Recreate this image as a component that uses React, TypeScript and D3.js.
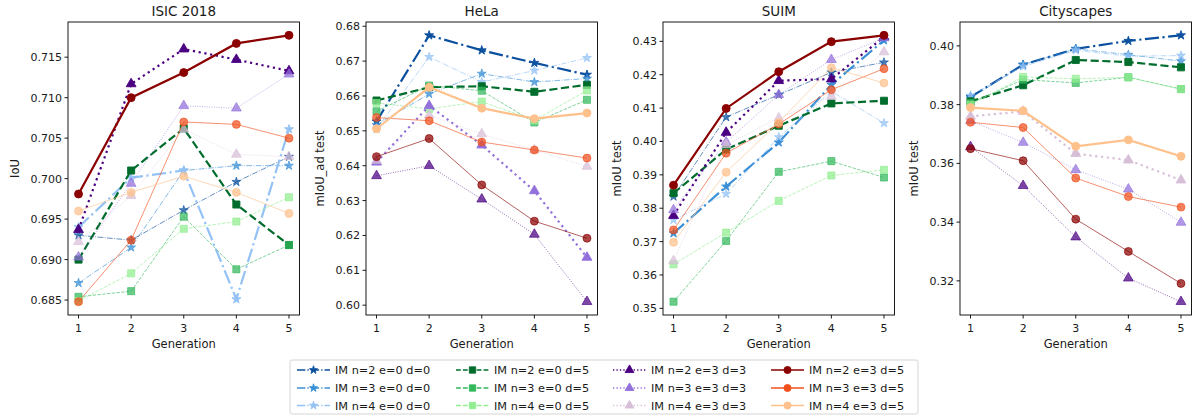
import React from 'react';
import * as d3 from 'd3';

const generations = [1, 2, 3, 4, 5];

const seriesLabels = [
  'IM n=2 e=0 d=0', 'IM n=3 e=0 d=0', 'IM n=4 e=0 d=0',
  'IM n=2 e=0 d=5', 'IM n=3 e=0 d=5', 'IM n=4 e=0 d=5',
  'IM n=2 e=3 d=3', 'IM n=3 e=3 d=3', 'IM n=4 e=3 d=3',
  'IM n=2 e=3 d=5', 'IM n=3 e=3 d=5', 'IM n=4 e=3 d=5',
];
const seriesColors = [
  '#0b509e', '#3a8fd6', '#94c2f5',
  '#006d2c', '#33b85c', '#90ee90',
  '#4b0082', '#9370db', '#d8bfd8',
  '#8b0000', '#f0501e', '#fec18c',
];
const seriesMarkers = ['star', 'star', 'star', 'square', 'square', 'square', 'triangle', 'triangle', 'triangle', 'circle', 'circle', 'circle'];
const seriesDash = ['dashdot', 'dashdot', 'dashdot', 'dashed', 'dashed', 'dashed', 'dotted', 'dotted', 'dotted', 'solid', 'solid', 'solid'];

const panelTitles = ['ISIC 2018', 'HeLa', 'SUIM', 'Cityscapes'];
const panelYLabels = ['IoU', 'mIoU_ad test', 'mIoU test', 'mIoU test'];
const isicTicks = [0.685, 0.69, 0.695, 0.7, 0.705, 0.71, 0.715];
const helaTicks = [0.6, 0.61, 0.62, 0.63, 0.64, 0.65, 0.66, 0.67, 0.68];
const suimTicks = [0.35, 0.36, 0.37, 0.38, 0.39, 0.4, 0.41, 0.42, 0.43];
const cityTicks = [0.32, 0.34, 0.36, 0.38, 0.4];
const panelTickFormats = ['.3f', '.2f', '.2f', '.2f'];
// highlighted (thick) series per panel
const panelBold = [[2, 3, 6, 9], [0, 3, 7, 11], [1, 3, 6, 9], [0, 3, 8, 11]];

const isic = [
  [0.6930, 0.6924, 0.6961, 0.6996, 0.7027],
  [0.6871, 0.6915, 0.7010, 0.7016, 0.7016],
  [0.6940, 0.7001, 0.7010, 0.6851, 0.7061],
  [0.6900, 0.7010, 0.7062, 0.6968, 0.6918],
  [0.6854, 0.6861, 0.6953, 0.6888, 0.6918],
  [0.6849, 0.6883, 0.6938, 0.6947, 0.6977],
  [0.6937, 0.7117, 0.7160, 0.7147, 0.7133],
  [0.6903, 0.6994, 0.7090, 0.7087, 0.7129],
  [0.6922, 0.6979, 0.7061, 0.7030, 0.7027],
  [0.6981, 0.7100, 0.7131, 0.7167, 0.7177],
  [0.6848, 0.6924, 0.7070, 0.7067, 0.7050],
  [0.6960, 0.6983, 0.7003, 0.6983, 0.6957],
];
const hela = [
  [0.6527, 0.6774, 0.6731, 0.6695, 0.6661],
  [0.6517, 0.6606, 0.6664, 0.6640, 0.6650],
  [0.6505, 0.6712, 0.6640, 0.6673, 0.6709],
  [0.6587, 0.6625, 0.6628, 0.6612, 0.6632],
  [0.6556, 0.6630, 0.6615, 0.6524, 0.6589],
  [0.6580, 0.6563, 0.6584, 0.6530, 0.6616],
  [0.6371, 0.6400, 0.6304, 0.6203, 0.6010],
  [0.6410, 0.6572, 0.6459, 0.6328, 0.6137],
  [0.6415, 0.6545, 0.6491, 0.6445, 0.6398],
  [0.6426, 0.6478, 0.6345, 0.6241, 0.6192],
  [0.6538, 0.6529, 0.6468, 0.6445, 0.6422],
  [0.6506, 0.6625, 0.6565, 0.6535, 0.6551],
];
const suim = [
  [0.3835, 0.4073, 0.4140, 0.4207, 0.4237],
  [0.3725, 0.3865, 0.3997, 0.4170, 0.4303],
  [0.3765, 0.3843, 0.4013, 0.4150, 0.4055],
  [0.3845, 0.3976, 0.4047, 0.4114, 0.4122],
  [0.3520, 0.3702, 0.3909, 0.3941, 0.3892],
  [0.3632, 0.3727, 0.3822, 0.3898, 0.3915],
  [0.3778, 0.4027, 0.4182, 0.4187, 0.4313],
  [0.3795, 0.3998, 0.4140, 0.4245, 0.4310],
  [0.3642, 0.3990, 0.4070, 0.4135, 0.4268],
  [0.3869, 0.4099, 0.4209, 0.4299, 0.4318],
  [0.3735, 0.3965, 0.4052, 0.4155, 0.4218],
  [0.3698, 0.3908, 0.4057, 0.4221, 0.4175],
];
const cityscapes = [
  [0.3826, 0.3936, 0.3990, 0.4017, 0.4036],
  [0.3822, 0.3936, 0.3990, 0.3970, 0.3948],
  [0.3831, 0.3930, 0.3985, 0.3965, 0.3967],
  [0.3811, 0.3866, 0.3952, 0.3945, 0.3927],
  [0.3805, 0.3885, 0.3874, 0.3893, 0.3853],
  [0.3800, 0.3894, 0.3888, 0.3893, 0.3853],
  [0.3656, 0.3524, 0.3349, 0.3209, 0.3129],
  [0.3745, 0.3671, 0.3578, 0.3512, 0.3399],
  [0.3760, 0.3777, 0.3633, 0.3611, 0.3543],
  [0.3650, 0.3609, 0.3410, 0.3300, 0.3191],
  [0.3740, 0.3722, 0.3550, 0.3487, 0.3451],
  [0.3790, 0.3779, 0.3658, 0.3680, 0.3624],
];

const panelData = [isic, hela, suim, cityscapes];
const panelTicks = [isicTicks, helaTicks, suimTicks, cityTicks];

const W = 1192, H = 416;
const FONT = 'DejaVu Sans, sans-serif';
const TEXT = '#1a1a1a';
const panelLefts = [68, 366, 663, 960];
const panelWidth = 231.5;
const panelTop = 22;
const panelHeight = 293;

function dashArray(kind: string, lw: number) {
  if (kind === 'dashed') return [3.7 * lw, 1.6 * lw].join(' ');
  if (kind === 'dashdot') return [6.4 * lw, 1.6 * lw, 1 * lw, 1.6 * lw].join(' ');
  if (kind === 'dotted') return [1 * lw, 1.65 * lw].join(' ');
  return undefined;
}

function symbolPath(kind: string, scale = 1) {
  const t = kind === 'star' ? d3.symbolStar : kind === 'square' ? d3.symbolSquare : kind === 'triangle' ? d3.symbolTriangle : d3.symbolCircle;
  const size = kind === 'star' ? 25 : kind === 'square' ? 50 : kind === 'triangle' ? 42 : 50;
  return d3.symbol().type(t).size(size * scale)() as string;
}

function Panel({ idx }: { idx: number }) {
  const data = panelData[idx];
  const left = panelLefts[idx];
  const all = data.flat();
  const mn = d3.min(all) as number, mx = d3.max(all) as number;
  const pad = (mx - mn) * 0.05;
  const x = d3.scaleLinear().domain([0.8, 5.2]).range([left, left + panelWidth]);
  const y = d3.scaleLinear().domain([mn - pad, mx + pad]).range([panelTop + panelHeight, panelTop]);
  const fmt = d3.format(panelTickFormats[idx]);
  const ticks = panelTicks[idx];
  const bold = panelBold[idx];
  const line = d3.line<number>().x((_, i) => x(generations[i])).y((v) => y(v));
  const tickW = fmt(ticks[0]).length * 6.6;
  const clipId = `clip${idx}`;
  return (
    <g>
      <defs>
        <clipPath id={clipId}>
          <rect x={left} y={panelTop} width={panelWidth} height={panelHeight} />
        </clipPath>
      </defs>
      <g clipPath={`url(#${clipId})`}>
        {data.map((vals, s) => {
          const isBold = bold.includes(s);
          const lw = isBold ? 2.2 : 0.9;
          const op = isBold ? 1 : 0.7;
          const mop = isBold ? 1 : 0.72;
          return (
            <g key={s}>
              <path d={line(vals) as string} fill="none" stroke={seriesColors[s]} strokeWidth={lw}
                strokeOpacity={op} strokeDasharray={dashArray(seriesDash[s], lw)} />
              {vals.map((v, i) => (
                <path key={i} d={symbolPath(seriesMarkers[s])} transform={`translate(${x(generations[i])},${y(v)})`}
                  fill={seriesColors[s]} fillOpacity={mop} stroke={seriesColors[s]} strokeOpacity={mop} strokeWidth={0.9} />
              ))}
            </g>
          );
        })}
      </g>
      <rect x={left} y={panelTop} width={panelWidth} height={panelHeight} fill="none" stroke="#000" strokeWidth={0.9} />
      {generations.map((g) => (
        <g key={g}>
          <line x1={x(g)} x2={x(g)} y1={panelTop + panelHeight} y2={panelTop + panelHeight + 3.5} stroke="#000" strokeWidth={0.9} />
          <text x={x(g)} y={panelTop + panelHeight + 17} textAnchor="middle" fontSize={11} fontFamily={FONT} fill={TEXT}>{g}</text>
        </g>
      ))}
      {ticks.map((t) => (
        <g key={t}>
          <line x1={left - 3.5} x2={left} y1={y(t)} y2={y(t)} stroke="#000" strokeWidth={0.9} />
          <text x={left - 6} y={y(t)} dy="0.36em" textAnchor="end" fontSize={11} fontFamily={FONT} fill={TEXT}>{fmt(t)}</text>
        </g>
      ))}
      <text x={left + panelWidth / 2} y={16} textAnchor="middle" fontSize={13.5} fontFamily={FONT} fill={TEXT}>{panelTitles[idx]}</text>
      <text x={left + panelWidth / 2} y={348} textAnchor="middle" fontSize={11.5} fontFamily={FONT} fill={TEXT}>Generation</text>
      <text transform={`translate(${left - 7 - tickW - 9},${panelTop + panelHeight / 2}) rotate(-90)`} textAnchor="middle"
        fontSize={11.5} fontFamily={FONT} fill={TEXT}>{panelYLabels[idx]}</text>
    </g>
  );
}

function Legend() {
  const colX = [297, 456, 613, 771];
  const rowY = [370, 388, 405.5];
  return (
    <g>
      <rect x={290} y={360} width={628} height={54} rx={2} fill="#fff" fillOpacity={0.8} stroke="#d0d0d0" strokeWidth={0.9} />
      {seriesLabels.map((lab, s) => {
        const c = Math.floor(s / 3), r = s % 3;
        const x0 = colX[c], yy = rowY[r];
        const lw = 1.3;
        return (
          <g key={s}>
            <line x1={x0} x2={x0 + 33} y1={yy} y2={yy} stroke={seriesColors[s]} strokeWidth={lw} strokeDasharray={dashArray(seriesDash[s], lw)} />
            <path d={symbolPath(seriesMarkers[s], 0.8)} transform={`translate(${x0 + 16.5},${yy})`} fill={seriesColors[s]} stroke={seriesColors[s]} strokeWidth={0.9} />
            <text x={x0 + 38} y={yy} dy="0.36em" fontSize={11.3} fontFamily={FONT} fill={TEXT}>{lab}</text>
          </g>
        );
      })}
    </g>
  );
}

export default function App() {
  return (
    <svg width={W} height={H} style={{ position: 'absolute', left: 0, top: 0, background: '#fff' }}>
      <rect width={W} height={H} fill="#fff" />
      {[0, 1, 2, 3].map((i) => <Panel key={i} idx={i} />)}
      <Legend />
    </svg>
  );
}
